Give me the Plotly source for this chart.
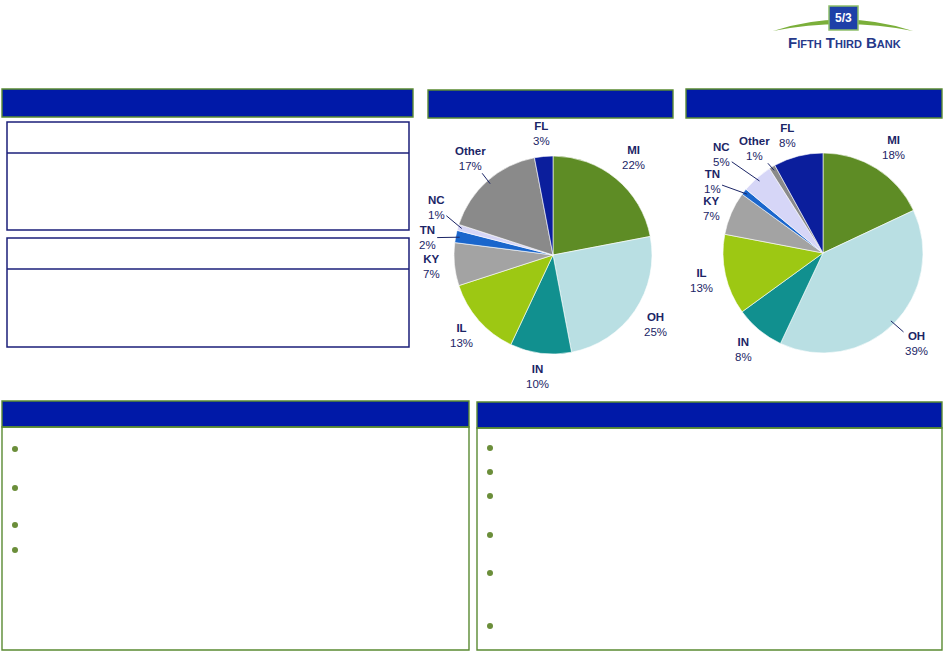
import math

import plotly.graph_objects as go

W, H = 943, 652

# slice order runs clockwise from 12 o'clock
states = ["MI", "OH", "IN", "IL", "KY", "TN", "NC", "Other", "FL"]
left_pie_pct = [22, 25, 10, 13, 7, 2, 1, 17, 3]
right_pie_pct = [18, 39, 8, 13, 7, 1, 5, 1, 8]

slice_colors = ["#5E8C25", "#B9DFE3", "#11908F", "#9DC813", "#A3A3A3",
                "#1A66CC", "#D6D6F7", "#8A8A8A", "#0B1E9C"]

NAVY = "#0019A8"
GREEN_EDGE = "#5A8A32"
BOX_NAVY = "#1B1F7A"
LABEL_COLOR = "#1B2566"


def px(x):
    return x / W


def py(y):
    return 1 - y / H


def pie_domain(cx, cy, r):
    return dict(x=[px(cx - r), px(cx + r)], y=[py(cy + r), py(cy - r)])


def rect(x0, y0, x1, y1, fill=None, line=GREEN_EDGE, width=1.4):
    return dict(type="rect", xref="paper", yref="paper",
                x0=px(x0), x1=px(x1), y0=py(y1), y1=py(y0),
                fillcolor=fill if fill else "rgba(0,0,0,0)",
                line=dict(color=line, width=width), layer="below")


def hline(x0, x1, y, color=BOX_NAVY, width=1.5):
    return dict(type="line", xref="paper", yref="paper",
                x0=px(x0), x1=px(x1), y0=py(y), y1=py(y),
                line=dict(color=color, width=width))


def bullet(x, y, r=3):
    return dict(type="circle", xref="paper", yref="paper",
                x0=px(x - r), x1=px(x + r), y0=py(y + r), y1=py(y - r),
                fillcolor="#6B8E3A", line=dict(width=0))


def pie_labels(cx, cy, r, values, label_r, tweaks, leaders):
    # label sits on the slice's mid-angle; tweaks = {name: (radius, angle shift)}
    out = []
    total = sum(values)
    cum = 0
    for name, v in zip(states, values):
        mid = (cum + v / 2) / total * 360
        cum += v
        rl, shift = tweaks.get(name, (label_r, 0))
        ang = math.radians(mid + shift)
        tx = cx + rl * math.sin(ang)
        ty = cy - rl * math.cos(ang)
        text = f"<b>{name}</b><br>{v}%"
        font = dict(family="Arial, Liberation Sans", size=11.5, color=LABEL_COLOR)
        if name in leaders:
            edge = math.radians(mid)
            ex = cx + r * 0.96 * math.sin(edge)
            ey = cy - r * 0.96 * math.cos(edge)
            out.append(dict(x=px(ex), y=py(ey), xref="paper", yref="paper",
                            ax=tx - ex, ay=ty - ey, text=text, font=font,
                            showarrow=True, arrowhead=0, arrowwidth=1,
                            arrowcolor=LABEL_COLOR, standoff=0,
                            xanchor="center", yanchor="middle"))
        else:
            out.append(dict(x=px(tx), y=py(ty), xref="paper", yref="paper",
                            text=text, font=font, showarrow=False,
                            xanchor="center", yanchor="middle"))
    return out


fig = go.Figure()

pies = [
    (553, 255, 99, left_pie_pct),
    (823, 253, 100, right_pie_pct),
]
for cx, cy, r, vals in pies:
    fig.add_trace(go.Pie(
        labels=states, values=vals, sort=False, direction="clockwise",
        rotation=0, textinfo="none", hoverinfo="label+percent",
        marker=dict(colors=slice_colors, line=dict(color="white", width=0.6)),
        domain=pie_domain(cx, cy, r), showlegend=False,
    ))

annotations = []
annotations += pie_labels(553, 255, 99, left_pie_pct, 122,
                          {"MI": (126, 0), "OH": (124, 0), "TN": (127, -3),
                           "NC": (126, 6), "Other": (127, 1)},
                          {"TN", "NC", "Other"})
annotations += pie_labels(823, 253, 100, right_pie_pct, 125,
                          {"KY": (120, -1.5), "TN": (132, -5), "NC": (141, -4.5),
                           "Other": (125, -2.5), "FL": (123, -2.5),
                           "MI": (127, 1.5), "OH": (130, -1)},
                          {"TN", "NC", "Other", "OH"})

# logo text
annotations.append(dict(x=px(844), y=py(43), xref="paper", yref="paper",
                        text="<b>Fifth Third Bank</b>", showarrow=False,
                        xanchor="center", yanchor="middle",
                        font=dict(family="Arial, Liberation Sans", size=15,
                                  color="#26398A", variant="small-caps")))
annotations.append(dict(x=px(843.5), y=py(18), xref="paper", yref="paper",
                        text="<b>5/3</b>", showarrow=False,
                        xanchor="center", yanchor="middle",
                        font=dict(family="Arial, Liberation Sans", size=12, color="white")))

shapes = [
    # section headers
    rect(2, 89, 413, 117, fill=NAVY),
    rect(428, 90, 673, 118, fill=NAVY),
    rect(686, 89, 942, 118, fill=NAVY),
    # upper-left boxes
    rect(7, 122, 409, 230, line=BOX_NAVY, width=1.5),
    hline(7, 409, 153),
    rect(7, 238, 409, 347, line=BOX_NAVY, width=1.5),
    hline(7, 409, 269),
    # lower panels
    rect(2, 401, 469, 427, fill=NAVY),
    rect(2, 427, 469, 650),
    rect(477, 402, 942, 428, fill=NAVY),
    rect(477, 428, 942, 650),
]
shapes += [bullet(15, y) for y in [449, 488, 525, 550]]
shapes += [bullet(490, y) for y in [448, 472, 496, 535, 573, 626]]

# logo swoosh and badge
swoosh = (f"M {px(773)},{py(31)} Q {px(843)},{py(8)} {px(913)},{py(31)} "
          f"Q {px(843)},{py(17)} {px(773)},{py(31)} Z")
shapes.append(dict(type="path", xref="paper", yref="paper", path=swoosh,
                   fillcolor="#7BAF3A", line=dict(width=0)))
shapes.append(dict(type="rect", xref="paper", yref="paper",
                   x0=px(829), x1=px(858), y0=py(30), y1=py(6),
                   fillcolor="#1E40A8", line=dict(color="#8DBF6A", width=1.5)))

fig.update_layout(
    width=W, height=H,
    margin=dict(l=0, r=0, t=0, b=0),
    paper_bgcolor="white", plot_bgcolor="white",
    shapes=shapes, annotations=annotations,
)

fig.write_html("out.html", config={"displayModeBar": False},
               post_script="document.body.style.margin='0';")
